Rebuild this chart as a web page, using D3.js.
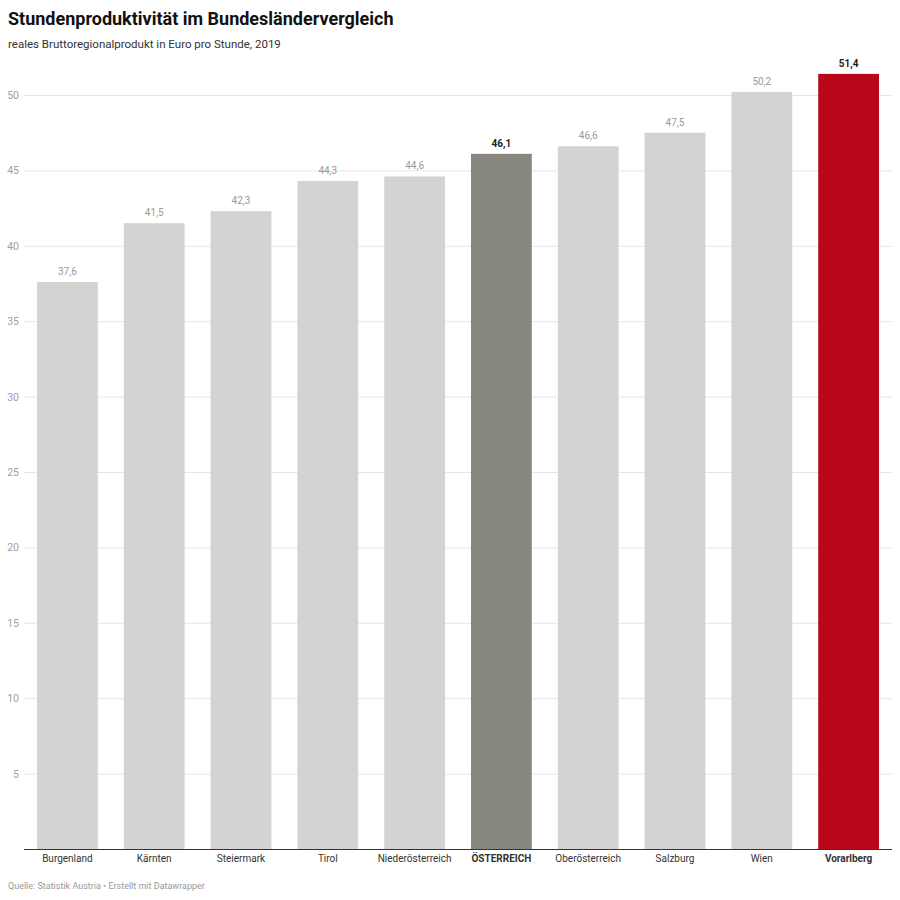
<!DOCTYPE html>
<html><head><meta charset="utf-8">
<script src="https://cdn.jsdelivr.net/npm/d3@7"></script>
<style>
body{margin:0;background:#fff;font-family:Roboto,"Noto Sans",sans-serif;}
</style></head>
<body><svg id="c" width="900" height="900"></svg>
<script>
const categories = ["Burgenland","Kärnten","Steiermark","Tirol","Niederösterreich","ÖSTERREICH","Oberösterreich","Salzburg","Wien","Vorarlberg"];
const values = [37.6,41.5,42.3,44.3,44.6,46.1,46.6,47.5,50.2,51.4];
const highlight = ["normal","normal","normal","normal","normal","total","normal","normal","normal","top"];
const yTicks = [5,10,15,20,25,30,35,40,45,50];

const svg = d3.select("#c");
const colors = {normal:"#d4d3d1", total:"#87867f", top:"#b8071a"};
const x = d3.scaleBand().domain(categories).range([24,892]).paddingInner(0.3).paddingOuter(0.15);
const y = d3.scaleLinear().domain([0,50]).range([849,95]);

svg.append("text").attr("x",8).attr("y",25).attr("font-size",18).attr("font-weight",700).attr("fill","#111")
  .text("Stundenproduktivität im Bundesländervergleich");
svg.append("text").attr("x",8).attr("y",48).attr("font-size",11.5).attr("fill","#333")
  .text("reales Bruttoregionalprodukt in Euro pro Stunde, 2019");

const g = svg.append("g");
g.selectAll("line.grid").data(yTicks).join("line").attr("class","grid")
  .attr("x1",24).attr("x2",892).attr("y1",d=>y(d)+0.5).attr("y2",d=>y(d)+0.5)
  .attr("stroke","#e6e6e6").attr("stroke-width",1);
g.selectAll("text.yt").data(yTicks).join("text").attr("class","yt")
  .attr("x",19).attr("y",d=>y(d)+4).attr("text-anchor","end")
  .attr("font-size",10.5).attr("fill","#a0a0a0").text(d=>d);

g.selectAll("rect").data(values).join("rect")
  .attr("x",(d,i)=>x(categories[i])).attr("width",x.bandwidth())
  .attr("y",d=>y(d)).attr("height",d=>y(0)-y(d))
  .attr("fill",(d,i)=>colors[highlight[i]]);

g.selectAll("text.val").data(values).join("text").attr("class","val")
  .attr("x",(d,i)=>x(categories[i])+x.bandwidth()/2).attr("y",d=>y(d)-7)
  .attr("text-anchor","middle").attr("font-size",10)
  .attr("font-weight",(d,i)=>highlight[i]==="normal"?400:700)
  .attr("fill",(d,i)=>highlight[i]==="normal"?"#999":"#222")
  .text(d=>d.toFixed(1).replace(".",","));

g.append("line").attr("x1",24).attr("x2",892).attr("y1",y(0)+0.5).attr("y2",y(0)+0.5).attr("stroke","#333").attr("stroke-width",1);

g.selectAll("text.xl").data(categories).join("text").attr("class","xl")
  .attr("x",d=>x(d)+x.bandwidth()/2).attr("y",862).attr("text-anchor","middle")
  .attr("font-size",10)
  .attr("font-weight",(d,i)=>highlight[i]==="normal"?400:700)
  .attr("fill","#333").text(d=>d);

svg.append("text").attr("x",8).attr("y",889).attr("font-size",9).attr("fill","#999")
  .text("Quelle: Statistik Austria • Erstellt mit Datawrapper");
</script></body></html>
